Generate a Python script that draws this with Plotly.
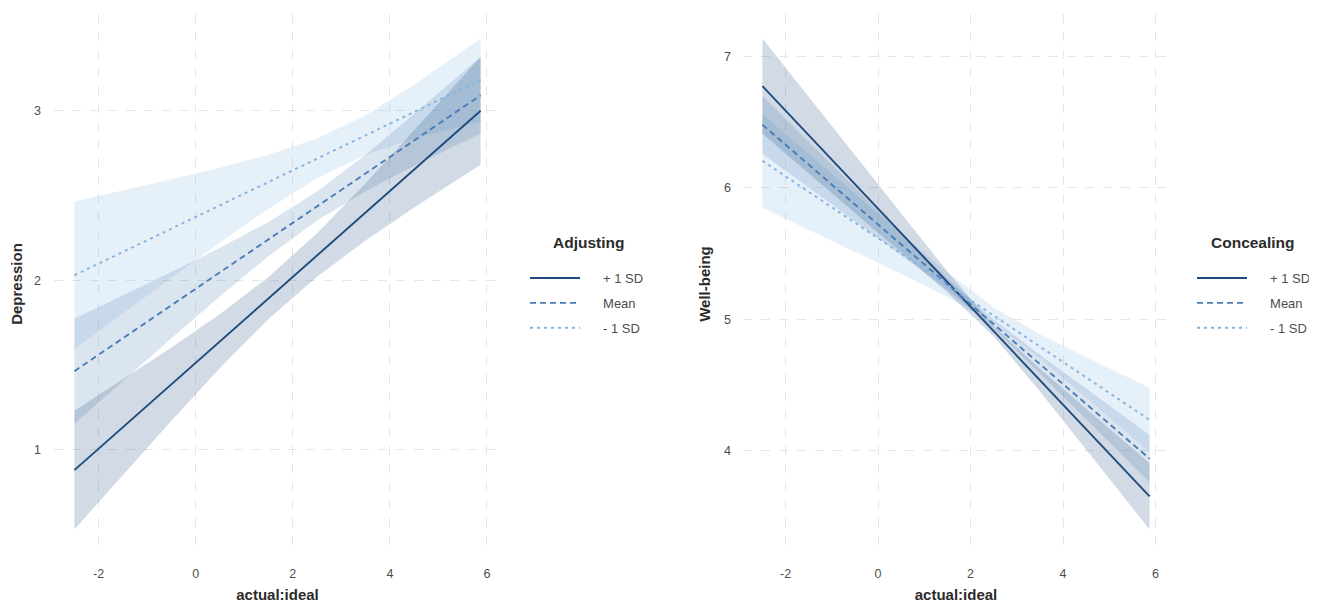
import plotly.graph_objects as go

# ---------------- data ----------------
x_grid = [-2.5, -1.5, -0.5, 0.5, 1.5, 2.5, 3.5, 4.5, 5.87]
levels = ["+ 1 SD", "Mean", "- 1 SD"]

# Left panel: Depression, moderator Adjusting
dep_fit = {
    "+ 1 SD": [0.880, 1.134, 1.388, 1.642, 1.896, 2.150, 2.404, 2.658, 3.001],
    "Mean":   [1.464, 1.659, 1.854, 2.049, 2.244, 2.439, 2.634, 2.829, 3.092],
    "- 1 SD": [2.030, 2.168, 2.306, 2.444, 2.582, 2.720, 2.858, 2.996, 3.182],
}
dep_lower = {
    "+ 1 SD": [0.530, 0.853, 1.172, 1.483, 1.772, 2.022, 2.235, 2.430, 2.682],
    "Mean":   [1.154, 1.407, 1.658, 1.906, 2.143, 2.354, 2.526, 2.676, 2.866],
    "- 1 SD": [1.594, 1.806, 2.016, 2.223, 2.423, 2.603, 2.741, 2.837, 2.937],
}
dep_upper = {
    "+ 1 SD": [1.230, 1.415, 1.604, 1.801, 2.020, 2.278, 2.573, 2.886, 3.320],
    "Mean":   [1.774, 1.911, 2.050, 2.192, 2.345, 2.524, 2.742, 2.982, 3.318],
    "- 1 SD": [2.466, 2.530, 2.596, 2.665, 2.741, 2.837, 2.975, 3.155, 3.427],
}

# Right panel: Well-being, moderator Concealing
wb_fit = {
    "+ 1 SD": [6.773, 6.400, 6.028, 5.655, 5.283, 4.910, 4.537, 4.165, 3.654],
    "Mean":   [6.480, 6.177, 5.873, 5.570, 5.266, 4.963, 4.659, 4.356, 3.940],
    "- 1 SD": [6.205, 5.970, 5.734, 5.499, 5.263, 5.028, 4.793, 4.557, 4.235],
}
wb_lower = {
    "+ 1 SD": [6.411, 6.110, 5.810, 5.508, 5.203, 4.870, 4.451, 4.011, 3.402],
    "Mean":   [6.260, 6.004, 5.746, 5.488, 5.224, 4.928, 4.587, 4.239, 3.760],
    "- 1 SD": [5.848, 5.682, 5.514, 5.345, 5.169, 4.966, 4.699, 4.403, 3.990],
}
wb_upper = {
    "+ 1 SD": [7.135, 6.690, 6.246, 5.802, 5.363, 4.950, 4.623, 4.319, 3.906],
    "Mean":   [6.700, 6.350, 6.000, 5.652, 5.308, 4.998, 4.731, 4.473, 4.120],
    "- 1 SD": [6.562, 6.258, 5.954, 5.653, 5.357, 5.090, 4.887, 4.711, 4.480],
}

x_ticks = [-2, 0, 2, 4, 6]
x_tick_labels = ["-2", "0", "2", "4", "6"]
dep_ticks = [1, 2, 3]
wb_ticks = [4, 5, 6, 7]

# ---------------- styles ----------------
line_colors = {"+ 1 SD": "#1f4a7c", "Mean": "#4a7db6", "- 1 SD": "#82b4e1"}
band_colors = {"+ 1 SD": "rgba(31,74,124,0.2)", "Mean": "rgba(74,125,182,0.2)",
               "- 1 SD": "rgba(130,180,225,0.2)"}
dashes = {"+ 1 SD": "solid", "Mean": "6px,4px", "- 1 SD": "3px,4px"}

FONT = "Liberation Sans, Arial, sans-serif"
W, H = 1309, 595   # page adds an 8px body margin; positions below are screen px - 8
OFF = 8

def px_x(s):
    return (s - OFF) / W

def px_y(s):
    return 1 - (s - OFF) / H

fig = go.Figure()

def add_panel(fit, lower, upper, xa, ya, legend_name):
    for lev in ["- 1 SD", "Mean", "+ 1 SD"]:
        fig.add_trace(go.Scatter(
            x=x_grid + x_grid[::-1],
            y=upper[lev] + lower[lev][::-1],
            fill="toself", fillcolor=band_colors[lev],
            line=dict(width=0), mode="lines", hoverinfo="skip",
            showlegend=False, xaxis=xa, yaxis=ya))
    for lev in levels:
        fig.add_trace(go.Scatter(
            x=x_grid, y=fit[lev], mode="lines",
            name="\u00a0\u00a0\u00a0\u00a0\u00a0" + lev,
            line=dict(color=line_colors[lev], width=1.9, dash=dashes[lev]),
            legend=legend_name, legendgroup=legend_name + lev,
            xaxis=xa, yaxis=ya))

add_panel(dep_fit, dep_lower, dep_upper, "x", "y", "legend")
add_panel(wb_fit, wb_lower, wb_upper, "x2", "y2", "legend2")

grid = dict(showgrid=True, gridcolor="#e6e6e6", griddash="dash", gridwidth=1,
            zeroline=False, showline=False, ticks="",
            tickfont=dict(family=FONT, size=12.5, color="#4d4d4d"),
            automargin=False)
title_font = dict(family=FONT, size=15, color="#2b2b2b")
leg_title_font = dict(family=FONT, size=15.5, color="#2b2b2b")

ydom = [px_y(554), px_y(14)]

fig.update_layout(
    width=W, height=H,
    margin=dict(l=0, r=0, t=0, b=0),
    paper_bgcolor="white", plot_bgcolor="white",
    font=dict(family=FONT),
    xaxis=dict(domain=[px_x(54), px_x(501)], range=[-2.92, 6.29],
               tickvals=x_ticks, ticktext=x_tick_labels,
               title=dict(text="<b>actual:ideal</b>", font=title_font, standoff=9),
               ticklabelstandoff=10, **grid),
    yaxis=dict(domain=ydom, range=[0.385, 3.572], tickvals=dep_ticks,
               title=dict(text="<b>Depression</b>", font=title_font, standoff=9),
               ticklabelstandoff=12, **grid),
    xaxis2=dict(domain=[px_x(743), px_x(1169)], range=[-2.92, 6.29],
                tickvals=x_ticks, ticktext=x_tick_labels,
                title=dict(text="<b>actual:ideal</b>", font=title_font, standoff=9),
                ticklabelstandoff=10, anchor="y2", **grid),
    yaxis2=dict(domain=ydom, range=[3.215, 7.322], tickvals=wb_ticks,
                title=dict(text="<b>Well-being</b>", font=title_font, standoff=9),
                ticklabelstandoff=11, anchor="x2", **grid),
    legend=dict(x=px_x(525), y=px_y(263), xanchor="left", yanchor="top",
                font=dict(family=FONT, size=13, color="#4d4d4d"),
                tracegroupgap=5, bgcolor="rgba(0,0,0,0)", itemwidth=50),
    legend2=dict(x=px_x(1192), y=px_y(263), xanchor="left", yanchor="top",
                 font=dict(family=FONT, size=13, color="#4d4d4d"),
                 tracegroupgap=5, bgcolor="rgba(0,0,0,0)", itemwidth=50),
    annotations=[
        dict(text="<b>Adjusting</b>", x=px_x(588), y=px_y(243), xref="paper", yref="paper",
             xanchor="center", yanchor="middle", showarrow=False, font=leg_title_font),
        dict(text="<b>Concealing</b>", x=px_x(1253), y=px_y(243), xref="paper", yref="paper",
             xanchor="center", yanchor="middle", showarrow=False, font=leg_title_font),
    ],
)

fig.write_html("out.html")
